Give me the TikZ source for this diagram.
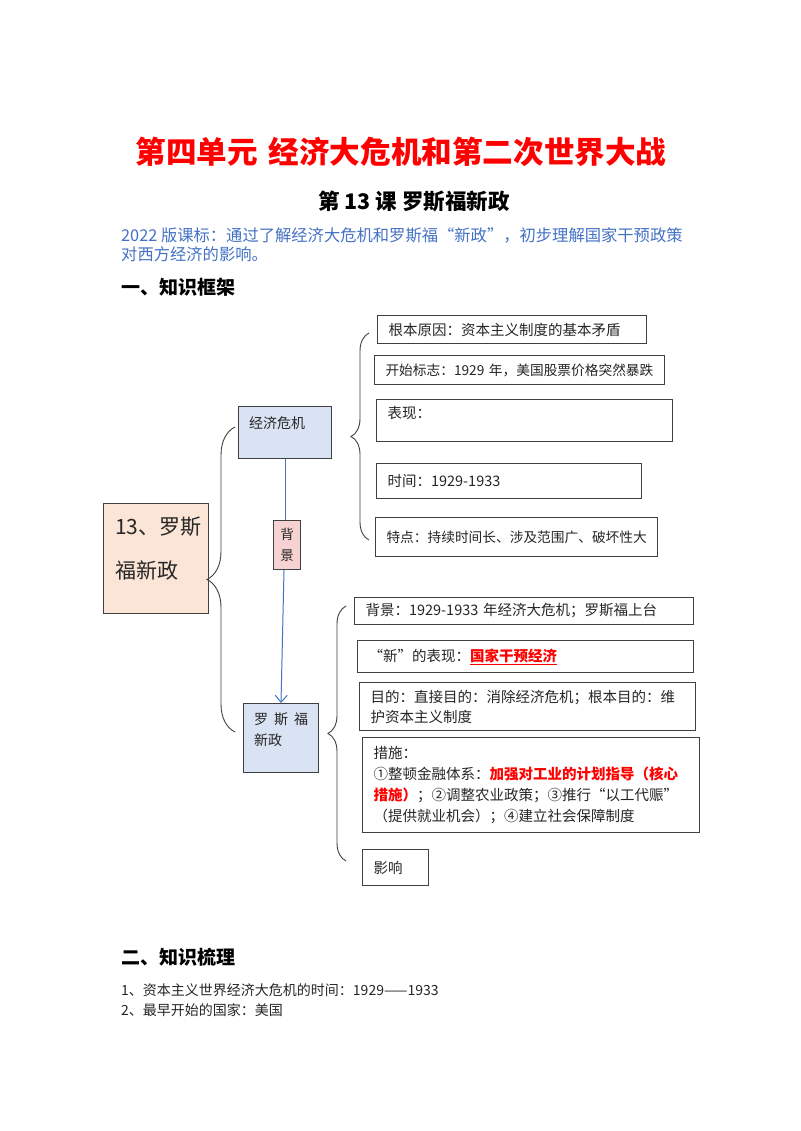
\documentclass[tikz,border=0pt]{standalone}
\usepackage{fontspec}
\setmainfont{Noto Sans CJK SC}
\usetikzlibrary{arrows.meta, decorations.pathreplacing}
\definecolor{hotred}{HTML}{FF0000}
\definecolor{stdblue}{HTML}{4472C4}
\definecolor{boxline}{HTML}{404040}
\definecolor{ink}{HTML}{262626}
\definecolor{lightblue}{HTML}{DAE3F3}
\definecolor{lightpeach}{HTML}{FBE5D6}
\definecolor{lightpink}{HTML}{F6D2D2}
\newcommand{\boxtxt}{\fontsize{14.5}{21}\selectfont}
\newcommand{\roottxt}{\fontsize{21}{44}\selectfont}
\newcommand{\headtxt}{\fontsize{19}{23}\selectfont\bfseries}
\newcommand{\keyred}[1]{\textcolor{hotred}{\bfseries #1}}
\tikzset{
  block/.style={rectangle, draw=boxline, line width=1pt, fill=white, anchor=north west,
    inner xsep=11pt, inner ysep=0pt, align=left, font=\boxtxt, text=ink},
  blockBlue/.style={block, fill=lightblue},
  blockPeach/.style={block, fill=lightpeach},
  blockPink/.style={block, fill=lightpink, inner xsep=0pt, align=center,
    font=\fontsize{13.5}{21}\selectfont},
  txt/.style={anchor=north west, inner sep=0pt, align=left, font=\boxtxt, text=ink},
  heading/.style={anchor=west, inner sep=0pt, font=\headtxt},
  item/.style={anchor=west, inner sep=0pt, font=\fontsize{14}{18}\selectfont, text=ink},
  link/.style={draw=stdblue, line width=1pt},
  linkarrow/.style={-{Straight Barb[length=7pt, width=12pt]}, draw=stdblue, line width=1pt},
  bracket/.style={decorate, draw=boxline, line width=0.9pt},
}
\begin{document}
\begin{tikzpicture}[x=1pt, y=-1pt]
\path[use as bounding box, fill=white] (0,0) rectangle (800,1131);
\node[font=\fontsize{30.6}{36}\selectfont\bfseries, text=hotred] (title) at (401,152) {第四单元\hspace{11pt}经济大危机和第二次世界大战};
\node[font=\fontsize{21.5}{25}\selectfont\bfseries] (sub) at (414,202) {第~13~课~罗斯福新政};
\node[anchor=north west, inner sep=0pt, align=left, font=\fontsize{16.3}{19}\selectfont, text=stdblue] (std) at (121,227)
  {2022~版课标：通过了解经济大危机和罗斯福“新政”，初步理解国家干预政策\\对西方经济的影响。};
\node[heading] (h1) at (121,287) {一、知识框架};

\node[blockPeach, minimum width=105, minimum height=110] (root) at (103,503) {};
\node[txt, font=\roottxt] (rootT) at ([xshift=12pt, yshift=-14pt]root.north west) {13、罗斯\\福新政};
\node[blockBlue, minimum width=93, minimum height=52] (eco) at (238,406) {};
\node[txt, font=\fontsize{14}{21}\selectfont] (ecoT) at ([xshift=11pt, yshift=-10pt]eco.north west) {经济危机};
\node[blockPink, minimum width=27, minimum height=49] (bgtag) at (273,520) {背\\景};
\node[blockBlue, minimum width=75, minimum height=69] (rsf) at (243,703) {};
\node[txt, font=\fontsize{14}{21}\selectfont] (rsfT) at ([xshift=11pt, yshift=-10pt]rsf.north west)
  {\makebox[54pt][s]{罗\hfill 斯\hfill 福}\\新政};

\node[block, text width=247, minimum height=28] (cause) at (377,315) {根本原因：资本主义制度的基本矛盾};
\node[block, text width=268, minimum height=29, font=\fontsize{13.7}{21}\selectfont] (start) at (374,355) {开始标志：1929~年，美国股票价格突然暴跌};
\node[block, text width=274, minimum height=42] (show) at (376,399) {表现：\\[-4pt]\mbox{}};
\node[block, text width=243, minimum height=35] (time) at (376,463) {时间：1929-1933};
\node[block, text width=260, minimum height=39, font=\fontsize{13.7}{21}\selectfont] (feat) at (375,517) {特点：持续时间长、涉及范围广、破坏性大};

\node[block, text width=317, minimum height=27] (bg) at (354,597) {背景：1929-1933~年经济大危机；罗斯福上台};
\node[block, text width=314, minimum height=32] (new) at (357,640) {“新”的表现：\textcolor{hotred}{\bfseries\underline{国家干预经济}}};
\node[block, text width=314, minimum height=48, font=\fontsize{14.5}{20}\selectfont] (aim) at (359,682)
  {目的：直接目的：消除经济危机；根本目的：维\\护资本主义制度};
\node[block, text width=315, minimum height=95] (meas) at (362,737)
  {措施：\\①整顿金融体系：\keyred{加强对工业的计划指导（核心}\\\keyred{措施）}；②调整农业政策；③推行“以工代赈”\\（提供就业机会）；④建立社会保障制度};
\node[block, text width=44, minimum height=36] (eff) at (362,849) {影响};

\node[heading] (h2) at (121,957) {二、知识梳理};
\node[item] (i1) at (121,990) {1、资本主义世界经济大危机的时间：1929——1933};
\node[item] (i2) at (121,1010) {2、最早开始的国家：美国};

\coordinate (lbBot) at (235,732);
\coordinate (lbTop) at (235,427);
\coordinate (ubBot) at (369,540);
\coordinate (ubTop) at (369,333);
\coordinate (dbBot) at (346,861);
\coordinate (dbTop) at (346,606);
\draw[bracket, decoration={brace, amplitude=28pt}] (lbBot) -- (lbTop);
\draw[bracket, decoration={brace, amplitude=18pt}] (ubBot) -- (ubTop);
\draw[bracket, decoration={brace, amplitude=18pt}] (dbBot) -- (dbTop);
\draw[link] (eco.south) -- (eco.south |- bgtag.north);
\draw[linkarrow] ([xshift=-3pt]bgtag.south) -- (rsf.north);
\end{tikzpicture}
\end{document}
